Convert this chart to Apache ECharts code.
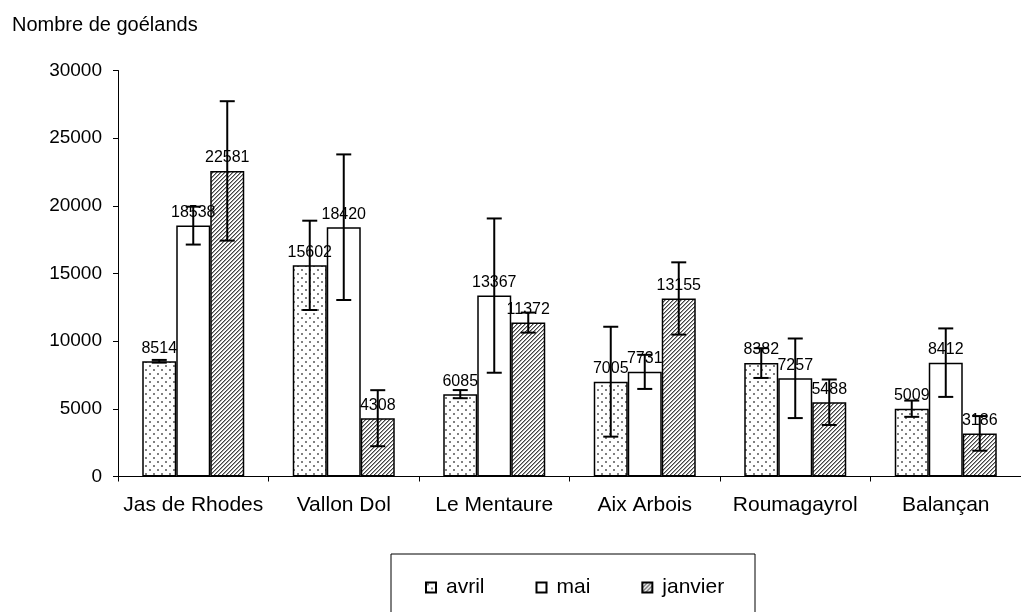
<!DOCTYPE html>
<html>
<head>
<meta charset="utf-8">
<script src="https://cdn.jsdelivr.net/npm/echarts@6/dist/echarts.min.js"></script>
<style>
html,body{margin:0;padding:0;background:#fff;}
#chart{width:1021px;height:612px;}
</style>
</head>
<body>
<div id="chart"></div>
<script>
const categories = ['Jas de Rhodes', 'Vallon Dol', 'Le Mentaure', 'Aix Arbois', 'Roumagayrol', 'Balançan'];
const avril   = [8514, 15602, 6085, 7005, 8382, 5009];
const mai     = [18538, 18420, 13367, 7731, 7257, 8412];
const janvier = [22581, 4308, 11372, 13155, 5488, 3186];
const avrilErr   = [100, 3300, 300, 4060, 1100, 600];
const maiErr     = [1400, 5380, 5700, 1260, 2940, 2530];
const janvierErr = [5150, 2070, 740, 2670, 1680, 1280];
const seriesNames = ['avril', 'mai', 'janvier'];
const yTicks = { min: 0, max: 30000, interval: 5000 };

const FONT = "'Liberation Sans', Arial, sans-serif";

function dotPattern() {
  const c = document.createElement('canvas');
  c.width = 8; c.height = 8;
  const g = c.getContext('2d');
  g.fillStyle = '#fff'; g.fillRect(0, 0, 8, 8);
  g.fillStyle = '#808080';
  g.fillRect(1, 1, 2, 2);
  g.fillRect(5, 5, 2, 2);
  return c;
}
function hatchPattern() {
  const c = document.createElement('canvas');
  c.width = 4; c.height = 4;
  const g = c.getContext('2d');
  for (let x = 0; x < 4; x++) {
    for (let y = 0; y < 4; y++) {
      const k = (x + y) % 4;
      g.fillStyle = k === 0 ? '#444444' : (k === 1 ? '#a0a0a0' : '#ffffff');
      g.fillRect(x, y, 1, 1);
    }
  }
  return c;
}

const fills = [
  { image: dotPattern(), repeat: 'repeat' },
  '#ffffff',
  { image: hatchPattern(), repeat: 'repeat' }
];
const values = [avril, mai, janvier];
const errs = [avrilErr, maiErr, janvierErr];
const BAR_W = 34;
const offsets = [-BAR_W, 0, BAR_W];

const barSeries = seriesNames.map((name, s) => ({
  name: name,
  type: 'bar',
  barWidth: BAR_W,
  barGap: '0%',
  data: values[s],
  itemStyle: { color: fills[s], borderColor: '#000', borderWidth: 1.5 },
  label: {
    show: true, position: 'top', distance: 5,
    color: '#000', fontSize: 16, fontFamily: FONT
  },
  emphasis: { disabled: true },
  z: 2
}));

const errSeries = seriesNames.map((name, s) => ({
  name: 'err-' + name,
  type: 'custom',
  data: values[s].map((v, i) => [i, v - errs[s][i], v + errs[s][i]]),
  renderItem: function (params, api) {
    const i = api.value(0);
    const lo = api.coord([i, api.value(1)]);
    const hi = api.coord([i, api.value(2)]);
    const x = lo[0] + offsets[s];
    const cap = 7.5;
    const st = { stroke: '#000', lineWidth: 2 };
    return {
      type: 'group',
      children: [
        { type: 'line', shape: { x1: x, y1: lo[1], x2: x, y2: hi[1] }, style: st },
        { type: 'line', shape: { x1: x - cap, y1: hi[1], x2: x + cap, y2: hi[1] }, style: st },
        { type: 'line', shape: { x1: x - cap, y1: lo[1], x2: x + cap, y2: lo[1] }, style: st }
      ]
    };
  },
  z: 5,
  silent: true
}));

const chart = echarts.init(document.getElementById('chart'), null, { renderer: 'canvas' });
chart.setOption({
  animation: false,
  backgroundColor: '#fff',
  textStyle: { fontFamily: FONT },
  grid: { left: 118, top: 70.5, width: 915, height: 406 },
  graphic: [
    {
      type: 'text', left: 12, top: 15,
      style: { text: 'Nombre de goélands', fill: '#000', font: "20px 'Liberation Sans', Arial, sans-serif" }
    },
    {
      type: 'rect', shape: { x: 391, y: 554, width: 364, height: 80 },
      style: { fill: 'none', stroke: '#000', lineWidth: 1 }, z: 0
    }
  ],
  legend: {
    data: seriesNames,
    left: 420, top: 572,
    itemWidth: 10, itemHeight: 10, itemGap: 51,
    icon: 'rect',
    textStyle: { color: '#000', fontSize: 21, fontFamily: FONT, padding: [0, 0, 0, 5] },
    selectedMode: false
  },
  xAxis: {
    type: 'category',
    data: categories,
    axisLine: { lineStyle: { color: '#000', width: 1 } },
    axisTick: { show: true, length: 5, interval: 0, lineStyle: { color: '#000' } },
    axisLabel: { color: '#000', fontSize: 21, fontFamily: FONT, margin: 18, interval: 0 },
    splitLine: { show: false }
  },
  yAxis: {
    type: 'value',
    min: yTicks.min, max: yTicks.max, interval: yTicks.interval,
    axisLine: { show: true, lineStyle: { color: '#000', width: 1 } },
    axisTick: { show: true, length: 5, lineStyle: { color: '#000' } },
    axisLabel: { color: '#000', fontSize: 19, fontFamily: FONT, margin: 16, formatter: v => String(v) },
    splitLine: { show: false }
  },
  series: barSeries.concat(errSeries)
});
</script>
</body>
</html>
